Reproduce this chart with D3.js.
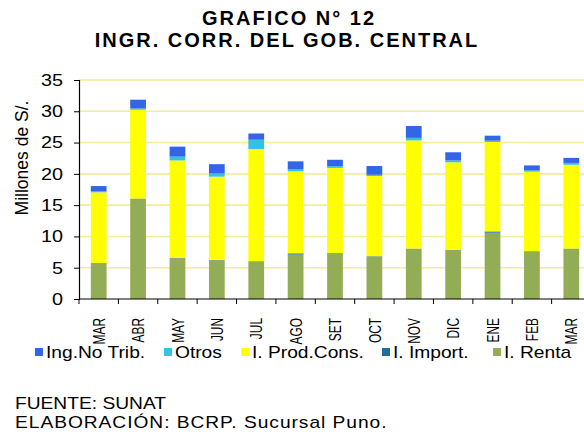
<!DOCTYPE html>
<html>
<head>
<meta charset="utf-8">
<script src="https://cdn.jsdelivr.net/npm/d3@7"></script>
<style>
	body { margin: 0; background: #ffffff; }
	svg { display: block; font-family: Arial, "Liberation Sans", sans-serif; }
</style>
</head>
<body>
<script>

// Data (millones de S/.)
var months = ['MAR', 'ABR', 'MAY', 'JUN', 'JUL', 'AGO', 'SET', 'OCT', 'NOV', 'DIC', 'ENE', 'FEB', 'MAR2'];
var monthLabels = ['MAR', 'ABR', 'MAY', 'JUN', 'JUL', 'AGO', 'SET', 'OCT', 'NOV', 'DIC', 'ENE', 'FEB', 'MAR'];

var renta    = [5.7, 16.0, 6.5, 6.2, 6.0, 7.1, 7.3, 6.8, 8.0, 7.8, 10.6, 7.6, 8.0];
var importa  = [0.05, 0.05, 0.05, 0.05, 0.05, 0.2, 0.05, 0.05, 0.05, 0.05, 0.2, 0.05, 0.05];
var prodCons = [11.3, 14.2, 15.6, 13.3, 17.9, 13.1, 13.6, 12.8, 17.3, 14.0, 14.3, 12.7, 13.4];
var otros    = [0.2, 0.2, 0.6, 0.5, 1.5, 0.3, 0.3, 0.2, 0.4, 0.3, 0.2, 0.2, 0.3];
var noTrib   = [0.8, 1.4, 1.6, 1.5, 1.0, 1.3, 1.0, 1.4, 1.9, 1.3, 0.8, 0.8, 0.8];

var seriesKeys  = ['renta', 'importa', 'prodCons', 'otros', 'noTrib'];
var yTicks = [0, 5, 10, 15, 20, 25, 30, 35];

// Legend order as in the picture
var legendKeys   = ['noTrib', 'otros', 'prodCons', 'importa', 'renta'];
var legendLabels = ['Ing.No Trib.', 'Otros', 'I. Prod.Cons.', 'I. Import.', 'I. Renta'];

var colors = {
	renta: '#93ad57',
	importa: '#1f6e9e',
	prodCons: '#ffff00',
	otros: '#33c3e0',
	noTrib: '#3366e6'
};

// The source picture is stretched sideways, so texts are too
var stretch = 1.2;

// Build the table for d3.stack
var table = months.map(function(m, i) {
	return {
		month: m,
		renta: renta[i],
		importa: importa[i],
		prodCons: prodCons[i],
		otros: otros[i],
		noTrib: noTrib[i]
	};
});

var width = 584, height = 443;
var plot = { left: 79, right: 591, top: 80, bottom: 299 };

var svg = d3.select('body').append('svg')
	.attr('width', width)
	.attr('height', height);

var x = d3.scaleBand()
	.domain(months)
	.range([plot.left, plot.right])
	.paddingInner(0.6)
	.paddingOuter(0.3);

var y = d3.scaleLinear()
	.domain([0, 35])
	.range([plot.bottom, plot.top]);

// Title
var title = svg.append('g')
	.attr('font-weight', 'bold')
	.attr('font-size', '20px')
	.attr('letter-spacing', '2px')
	.attr('text-anchor', 'middle');

title.append('text').attr('x', 289).attr('y', 25).text('GRAFICO N° 12');
title.append('text').attr('x', 287).attr('y', 47).text('INGR. CORR. DEL  GOB. CENTRAL');

// Gridlines
svg.append('g')
	.selectAll('line')
	.data(yTicks.slice(1))
	.enter()
	.append('line')
	.attr('x1', plot.left)
	.attr('x2', plot.right)
	.attr('y1', function(d) { return y(d); })
	.attr('y2', function(d) { return y(d); })
	.attr('stroke', '#f1ee93')
	.attr('stroke-width', 1.6);

// Stacked bars
var stack = d3.stack().keys(seriesKeys)(table);

svg.append('g')
	.selectAll('g')
	.data(stack)
	.enter()
	.append('g')
	.attr('fill', function(d) { return colors[d.key]; })
	.selectAll('rect')
	.data(function(d) { return d; })
	.enter()
	.append('rect')
	.attr('x', function(d) { return x(d.data.month); })
	.attr('width', x.bandwidth())
	.attr('y', function(d) { return y(d[1]); })
	.attr('height', function(d) { return y(d[0]) - y(d[1]); });

// Y axis
var yAxis = svg.append('g')
	.attr('transform', 'translate(' + plot.left + ',0)')
	.call(d3.axisLeft(y).tickValues(yTicks).tickSize(5));

yAxis.select('.domain').attr('stroke', '#000').attr('stroke-width', 1.2);
yAxis.selectAll('.tick line').attr('stroke', '#000');
yAxis.selectAll('.tick text')
	.attr('x', -16 / stretch)
	.attr('transform', 'scale(' + stretch + ',1)')
	.attr('font-size', '16.5px')
	.attr('font-family', 'Arial, "Liberation Sans", sans-serif')
	.attr('fill', '#000');

// X axis line and ticks at band boundaries
var step = x.step();
var boundaries = months.map(function(m) { return x(m) - step * 0.3; });
boundaries.push(x(months[months.length - 1]) + x.bandwidth() + step * 0.3);

svg.append('line')
	.attr('x1', plot.left)
	.attr('x2', plot.right)
	.attr('y1', plot.bottom)
	.attr('y2', plot.bottom)
	.attr('stroke', '#000')
	.attr('stroke-width', 1.2);

svg.append('g')
	.selectAll('line')
	.data(boundaries)
	.enter()
	.append('line')
	.attr('x1', function(d) { return d; })
	.attr('x2', function(d) { return d; })
	.attr('y1', plot.bottom)
	.attr('y2', plot.bottom + 5)
	.attr('stroke', '#000');

// Rotated month labels, squeezed along their length
svg.append('g')
	.selectAll('text')
	.data(months)
	.enter()
	.append('text')
	.attr('transform', function(d) {
		return 'translate(' + (x(d) + x.bandwidth() / 2) + ',318) rotate(-90) scale(0.7,1)';
	})
	.attr('dy', '0.36em')
	.attr('text-anchor', 'end')
	.attr('font-size', '17px')
	.text(function(d, i) { return monthLabels[i]; });

// Y axis title
svg.append('text')
	.attr('transform', 'translate(22,158) rotate(-90)')
	.attr('dy', '0.36em')
	.attr('text-anchor', 'middle')
	.attr('font-size', '17.5px')
	.text('Millones de S/.');

// Legend
var legendX = [35, 164, 241, 382, 493];

var legend = svg.append('g')
	.selectAll('g')
	.data(legendKeys)
	.enter()
	.append('g')
	.attr('transform', function(d, i) { return 'translate(' + legendX[i] + ',352)'; });

legend.append('rect')
	.attr('x', 0)
	.attr('y', -4)
	.attr('width', 8)
	.attr('height', 8)
	.attr('fill', function(d) { return colors[d]; });

legend.append('text')
	.attr('x', 11 / stretch)
	.attr('dy', '0.36em')
	.attr('transform', 'scale(' + stretch + ',1)')
	.attr('font-size', '16px')
	.text(function(d, i) { return legendLabels[i]; });

// Source notes
var notes = svg.append('g')
	.attr('font-size', '16px')
	.attr('transform', 'translate(15,0) scale(' + stretch + ',1)');

notes.append('text')
	.attr('y', 409)
	.text('FUENTE: SUNAT');

notes.append('text')
	.attr('y', 428)
	.attr('letter-spacing', '0.8px')
	.text('ELABORACIÓN: BCRP. Sucursal Puno.');

</script>
</body>
</html>
